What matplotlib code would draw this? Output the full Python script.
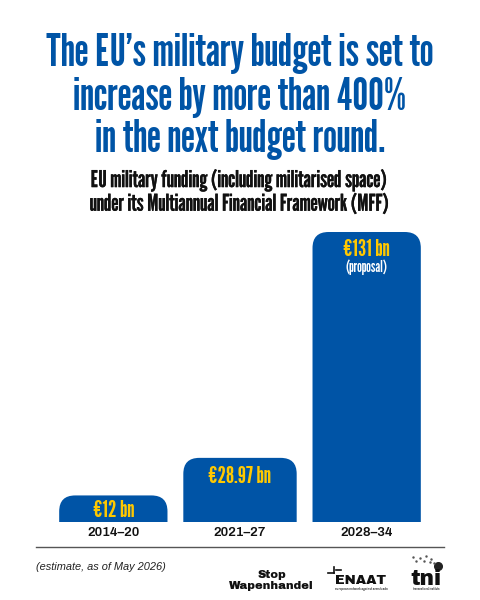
import matplotlib
matplotlib.use('Agg')
import matplotlib.pyplot as plt
import matplotlib.patheffects as pe
from matplotlib.path import Path
from matplotlib.patches import PathPatch
from matplotlib import font_manager as fm

periods = ['2014–20', '2021–27', '2028–34']
values = [12, 28.97, 131]
value_labels = ['€12 bn', '€28.97 bn', '€131 bn']

BLUE = '#0054a6'
YELLOW = '#ffc800'

# League Gothic may be absent on other machines, so shrink if we fall back
names = {f.name for f in fm.fontManager.ttflist}
NARROW = ['League Gothic', 'Roboto'] if 'League Gothic' in names else ['Roboto']
SCALE = 1.0 if 'League Gothic' in names else 0.6
WIDE = ['Archivo', 'Liberation Sans'] if 'Archivo' in names else ['Liberation Sans']
BLACK = ['Archivo Black', 'Liberation Sans'] if 'Archivo Black' in names else ['Liberation Sans']


def rounded_bar(ax, x, width, height, radius_x, radius_y):
    left, right = x - width / 2, x + width / 2
    top = height
    verts = [(left, 0), (left, top - radius_y), (left, top), (left + radius_x, top),
             (right - radius_x, top), (right, top), (right, top - radius_y), (right, 0), (left, 0)]
    codes = [Path.MOVETO, Path.LINETO, Path.CURVE3, Path.CURVE3,
             Path.LINETO, Path.CURVE3, Path.CURVE3, Path.LINETO, Path.CLOSEPOLY]
    ax.add_patch(PathPatch(Path(verts, codes), facecolor=BLUE, edgecolor='none'))


fig = plt.figure(figsize=(4.8, 6), dpi=100)

# plot area: x 50..430 px, baseline at y=522, 131 bn top at y=232
ax = fig.add_axes([50 / 480, (600 - 522) / 600, 380 / 480, 290 / 600])
ax.set_xlim(-0.5, 2.5)
ax.set_ylim(0, 131)
ax.axis('off')

bar_widths = [0.855, 0.895, 0.855]
centers = [0.0, 1.0, 2.0]
rx = 16 / 126.67
ry = 16 * 131 / 290
for c, w, v in zip(centers, bar_widths, values):
    rounded_bar(ax, c, w, v, rx, ry)

label_offsets = [15, 18.5, 18]
for c, v, lab, per, off in zip(centers, values, value_labels, periods, label_offsets):
    ax.annotate(lab, (c, v), xytext=(0, -off * 0.72), textcoords='offset points',
                ha='center', va='center', color=YELLOW, fontsize=16.8 * SCALE,
                family=NARROW, annotation_clip=False)
    ax.annotate(per, (c, 0), xytext=(0, -7.3), textcoords='offset points',
                ha='center', va='center', color='#111111', fontsize=9.6,
                family=WIDE, weight='bold', annotation_clip=False)

ax.annotate('(proposal)', (2, 131), xytext=(0, -35 * 0.72), textcoords='offset points',
            ha='center', va='center', color='white', fontsize=11 * SCALE, family=NARROW)


def px_text(x, y, s, **kw):
    fig.text(x / 480, 1 - y / 600, s, **kw)


def px_line(xs, ys, **kw):
    fig.add_artist(plt.Line2D([x / 480 for x in xs], [1 - y / 600 for y in ys], **kw))


title_lines = ['The EU’s military budget is set to', 'increase by more than 400%', 'in the next budget round.']
for y, line in zip([54, 97, 139], title_lines):
    px_text(240, y, line, ha='center', va='center', color=BLUE, fontsize=32 * SCALE, family=NARROW)

sub_lines = ['EU military funding (including militarised space)', 'under its Multiannual Financial Framework (MFF)']
for y, line in zip([180, 204], sub_lines):
    px_text(240, y, line, ha='center', va='center', color='#111111', fontsize=16.7 * SCALE, family=NARROW,
            path_effects=[pe.withStroke(linewidth=0.12, foreground='#111111')])

# footer rule
px_line([36, 444], [547, 547], color='#555555', lw=1)
px_text(36, 567, '(estimate, as of May 2026)', ha='left', va='center', color='#222222',
        fontsize=7.9, style='italic', family='Liberation Sans')

# logos, as text plus a few strokes
px_text(271.5, 574.5, 'Stop', ha='center', va='center', fontsize=8.3, family=BLACK, color='#111111')
px_text(271.5, 586, 'Wapenhandel', ha='center', va='center', fontsize=8.3, family=BLACK, color='#111111')
px_text(335, 584.5, 'ENAAT', ha='left', va='baseline', fontsize=9.6, family=BLACK, color='#111111')
px_text(335, 589, 'european network against arms trade', ha='left', va='center', fontsize=2.2, family=WIDE, color='#333333')
px_line([328, 334], [573, 573], color='#111111', lw=1.2)
px_line([334, 334], [567, 573], color='#111111', lw=1.2)
px_line([336, 341], [570, 570], color='#111111', lw=1.2)
px_text(426, 585, 'tni', ha='center', va='baseline', fontsize=15.5, family=BLACK, color='#111111')
px_text(426, 589, 'transnational institute', ha='center', va='center', fontsize=2.0, family=WIDE, color='#333333')
px_line([438], [566], marker='o', ms=5.5, color='#222222', ls='none')
px_line([413, 420, 426, 431, 416, 424, 430, 434], [557, 558, 556, 559, 561, 561, 562, 563],
        marker='.', ms=1.5, color='#555555', ls='none')

fig.savefig('out.png', dpi=100)
